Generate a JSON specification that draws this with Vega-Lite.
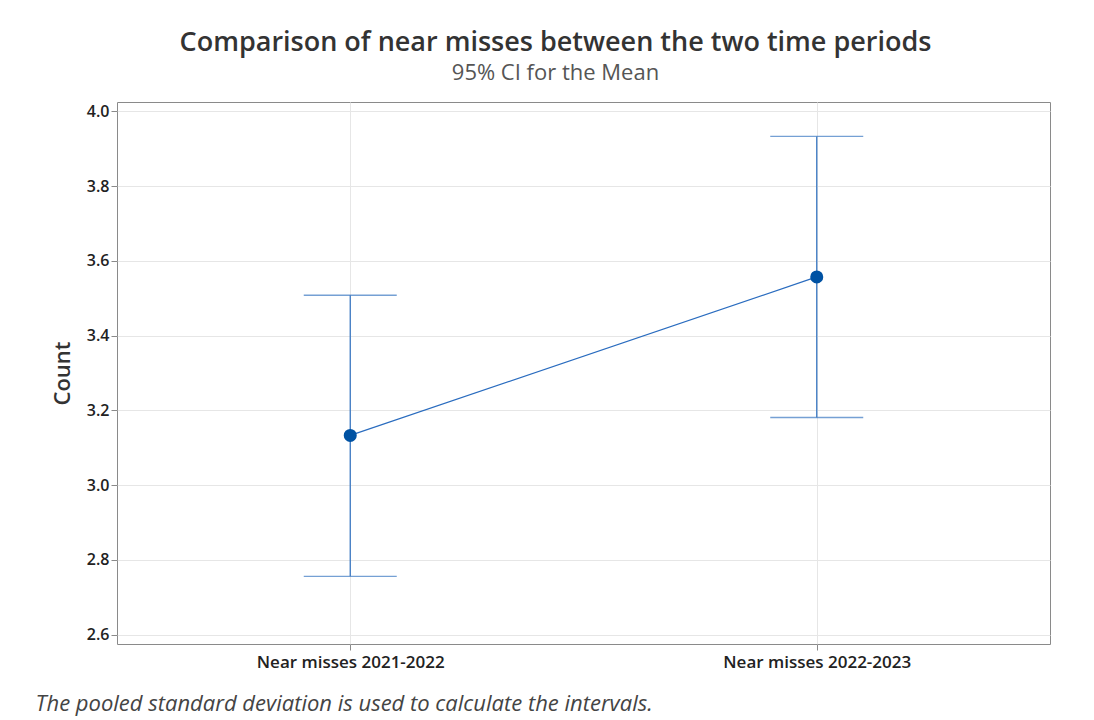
{
  "$schema": "https://vega.github.io/schema/vega-lite/v6.json",
  "autosize": "none",
  "width": 933,
  "height": 542,
  "padding": {"left": 117, "top": 102, "right": 44, "bottom": 76},
  "background": "white",
  "config": {
    "font": "Open Sans",
    "view": {"stroke": "#8a8a8a", "strokeWidth": 1},
    "axis": {
      "domain": false,
      "grid": true,
      "gridColor": "#e6e6e6",
      "gridWidth": 1,
      "tickColor": "#8a8a8a",
      "tickSize": 6,
      "labelFont": "Open Sans",
      "labelFontSize": 16,
      "labelFontWeight": 600,
      "labelColor": "#222222",
      "labelLimit": 400
    }
  },
  "title": {
    "text": "Comparison of near misses between the two time periods",
    "subtitle": "95% CI for the Mean",
    "anchor": "middle",
    "dx": -28,
    "offset": 17,
    "font": "Open Sans",
    "fontSize": 27,
    "fontWeight": 600,
    "color": "#333333",
    "subtitleFont": "Open Sans",
    "subtitleFontSize": 22,
    "subtitleFontWeight": 400,
    "subtitleColor": "#555555",
    "subtitlePadding": 6
  },
  "data": {
    "values": [
      {"period": "Near misses 2021-2022", "mean": 3.133, "lower": 2.756, "upper": 3.508},
      {"period": "Near misses 2022-2023", "mean": 3.557, "lower": 3.181, "upper": 3.933}
    ]
  },
  "layer": [
    {
      "mark": {"type": "rule", "color": "#3a78c2", "strokeWidth": 1.3},
      "encoding": {
        "x": {
          "field": "period",
          "type": "nominal",
          "scale": {"type": "point", "padding": 0.5},
          "sort": null,
          "axis": {
            "labelAngle": 0,
            "labelPadding": 4,
            "labelFontSize": 17,
            "labelLimit": 400,
            "title": "The pooled standard deviation is used to calculate the intervals.",
            "titleFont": "Open Sans",
            "titleFontSize": 22,
            "titleFontWeight": 400,
            "titleFontStyle": "italic",
            "titleColor": "#444444",
            "titleAlign": "left",
            "titleAnchor": "start",
            "titleBaseline": "alphabetic",
            "titleX": -82,
            "titleY": 66,
            "titleLimit": 1000
          }
        },
        "y": {
          "field": "lower",
          "type": "quantitative",
          "scale": {"domain": [2.575, 4.025], "nice": false, "zero": false},
          "axis": {
            "values": [2.6, 2.8, 3.0, 3.2, 3.4, 3.6, 3.8, 4.0],
            "format": ".1f",
            "title": "Count",
            "titleFont": "Open Sans",
            "titleFontSize": 22,
            "titleFontWeight": 600,
            "titleColor": "#333333",
            "titlePadding": 12
          }
        },
        "y2": {"field": "upper"}
      }
    },
    {
      "mark": {"type": "tick", "color": "#3a78c2", "size": 93, "thickness": 1.3, "orient": "horizontal"},
      "encoding": {
        "x": {"field": "period", "type": "nominal", "sort": null},
        "y": {"field": "lower", "type": "quantitative"}
      }
    },
    {
      "mark": {"type": "tick", "color": "#3a78c2", "size": 93, "thickness": 1.3, "orient": "horizontal"},
      "encoding": {
        "x": {"field": "period", "type": "nominal", "sort": null},
        "y": {"field": "upper", "type": "quantitative"}
      }
    },
    {
      "mark": {"type": "line", "color": "#2a6cbf", "strokeWidth": 1.2},
      "encoding": {
        "x": {"field": "period", "type": "nominal", "sort": null},
        "y": {"field": "mean", "type": "quantitative"}
      }
    },
    {
      "mark": {"type": "point", "filled": true, "opacity": 1, "color": "#0052a3", "size": 170},
      "encoding": {
        "x": {"field": "period", "type": "nominal", "sort": null},
        "y": {"field": "mean", "type": "quantitative"}
      }
    }
  ]
}
